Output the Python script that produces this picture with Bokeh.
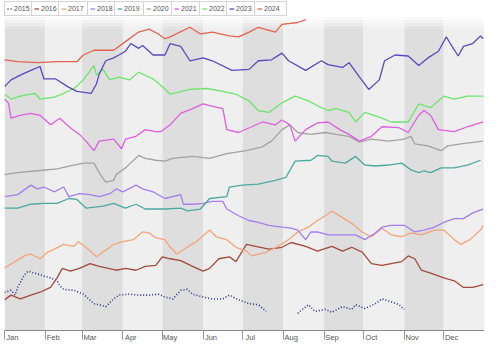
from bokeh.plotting import figure
from bokeh.models import Range1d, FixedTicker, Legend, LegendItem
from bokeh.embed import file_html
from bokeh.resources import INLINE

NaN = float("nan")

month_names = ["Jan", "Feb", "Mar", "Apr", "May", "Jun", "Jul", "Aug", "Sep", "Oct", "Nov", "Dec"]
month_starts = [0, 31, 59, 90, 120, 151, 181, 212, 243, 273, 304, 334]
year_end = 365
years = [2015, 2016, 2017, 2018, 2019, 2020, 2021, 2022, 2023, 2024]

days_2015 = [0, 5, 8, 10, 15, 18, 23, 30, 35, 40, 42, 45, 53, 60, 68, 72, 77, 83, 87, 95, 102, 110, 117, 122, 128, 134, 139, 143, 151, 158, 166, 171, 178, 186, 193, 199, NaN, 223, 231, 236, 244, 249, 257, 264, 267, 274, 282, 287, 294, 300, 304]
vals_2015 = [40, 42, 37, 45, 58, 62, 60, 57, 55, 52, 47, 43, 42, 38, 28, 27, 25, 33, 37, 38, 37, 37, 38, 35, 33, 42, 43, 38, 35, 33, 33, 37, 32, 28, 27, 20, NaN, 18, 27, 20, 22, 19, 25, 22, 27, 23, 28, 33, 30, 27, 22]

days_2016 = [0, 5, 12, 20, 27, 35, 40, 44, 50, 57, 65, 72, 85, 92, 100, 107, 115, 120, 126, 134, 143, 151, 156, 163, 171, 176, 184, 191, 201, 211, 218, 229, 238, 249, 257, 264, 272, 279, 287, 294, 302, 307, 312, 317, 324, 334, 342, 349, 356, 364]
vals_2016 = [32, 37, 33, 37, 40, 45, 55, 65, 62, 65, 70, 67, 63, 65, 63, 67, 68, 77, 75, 73, 67, 62, 65, 75, 77, 72, 90, 88, 85, 87, 92, 88, 83, 88, 83, 87, 82, 70, 68, 70, 72, 78, 75, 63, 60, 55, 52, 45, 45, 48]

days_2017 = [0, 8, 15, 20, 27, 33, 38, 45, 53, 56, 62, 70, 75, 83, 90, 98, 105, 110, 115, 122, 126, 131, 139, 146, 156, 161, 169, 176, 184, 188, 199, 208, 216, 223, 231, 238, 244, 249, 257, 264, 272, 279, 287, 294, 302, 309, 317, 327, 334, 342, 347, 354, 362, 364]
vals_2017 = [65, 72, 78, 80, 75, 82, 85, 90, 88, 93, 87, 77, 82, 90, 93, 95, 103, 102, 97, 95, 87, 80, 87, 93, 105, 98, 95, 87, 83, 78, 82, 88, 95, 103, 108, 115, 120, 125, 118, 112, 103, 98, 107, 100, 98, 102, 100, 105, 105, 95, 90, 95, 105, 110]

days_2018 = [0, 10, 15, 20, 25, 30, 38, 45, 49, 57, 65, 72, 80, 85, 90, 100, 105, 113, 122, 134, 136, 143, 151, 158, 166, 169, 178, 186, 193, 201, 211, 218, 223, 229, 233, 238, 246, 255, 267, 274, 282, 287, 294, 304, 312, 319, 327, 334, 342, 349, 356, 364]
vals_2018 = [140, 142, 147, 152, 148, 150, 145, 150, 140, 143, 142, 140, 143, 148, 145, 152, 148, 145, 138, 142, 132, 132, 133, 135, 135, 127, 120, 115, 113, 110, 108, 107, 105, 95, 103, 103, 100, 100, 100, 95, 102, 108, 110, 110, 103, 105, 108, 113, 117, 117, 123, 127]

days_2019 = [0, 10, 20, 30, 40, 49, 55, 62, 75, 83, 92, 100, 107, 122, 134, 139, 149, 156, 169, 171, 181, 193, 206, 214, 216, 221, 233, 238, 246, 249, 259, 267, 274, 282, 292, 302, 309, 315, 319, 324, 332, 342, 352, 362]
vals_2019 = [128, 128, 132, 133, 133, 138, 137, 128, 130, 133, 128, 132, 127, 127, 128, 125, 127, 138, 140, 150, 152, 153, 157, 160, 165, 177, 178, 183, 182, 177, 175, 182, 173, 172, 173, 175, 168, 165, 167, 165, 170, 170, 173, 178]

days_2020 = [0, 10, 25, 40, 50, 60, 68, 72, 77, 83, 85, 92, 102, 107, 115, 122, 128, 143, 156, 169, 184, 196, 203, 211, 217, 223, 233, 244, 252, 262, 270, 279, 292, 304, 309, 312, 322, 332, 337, 347, 364]
vals_2020 = [163, 165, 167, 169, 172, 175, 175, 165, 155, 157, 163, 170, 183, 180, 178, 177, 180, 182, 180, 185, 188, 192, 198, 210, 215, 207, 205, 207, 205, 203, 197, 200, 198, 200, 203, 195, 193, 188, 193, 195, 198]

days_2021 = [0, 3, 5, 12, 20, 27, 35, 42, 50, 57, 62, 68, 72, 83, 89, 92, 100, 107, 115, 119, 126, 134, 143, 151, 156, 166, 169, 178, 188, 196, 206, 211, 217, 221, 229, 238, 246, 255, 262, 270, 279, 287, 300, 307, 315, 319, 324, 330, 342, 352, 364]
vals_2021 = [242, 238, 222, 225, 227, 225, 215, 222, 212, 205, 198, 188, 198, 200, 190, 200, 203, 210, 208, 208, 215, 227, 232, 237, 235, 232, 210, 207, 213, 218, 215, 220, 215, 198, 210, 217, 218, 210, 205, 198, 203, 213, 212, 207, 225, 230, 225, 210, 208, 213, 218]

days_2022 = [0, 5, 12, 23, 27, 38, 45, 53, 60, 68, 70, 75, 80, 87, 95, 102, 113, 120, 126, 141, 154, 166, 176, 186, 193, 201, 211, 221, 231, 238, 246, 252, 262, 267, 274, 285, 294, 307, 315, 324, 334, 342, 352, 364]
vals_2022 = [247, 242, 245, 248, 242, 244, 248, 253, 262, 277, 267, 273, 262, 265, 262, 270, 263, 255, 247, 252, 253, 250, 247, 240, 230, 228, 238, 245, 240, 235, 230, 232, 228, 218, 228, 223, 218, 218, 237, 233, 245, 242, 245, 245]

days_2023 = [0, 5, 12, 20, 27, 30, 39, 48, 55, 66, 70, 72, 77, 83, 87, 92, 96, 102, 105, 113, 122, 126, 134, 141, 151, 158, 173, 186, 193, 203, 211, 216, 229, 241, 246, 257, 262, 270, 277, 285, 289, 297, 307, 315, 322, 330, 336, 339, 345, 349, 356, 362, 364]
vals_2023 = [255, 262, 267, 272, 276, 263, 263, 255, 250, 248, 258, 268, 282, 285, 288, 292, 300, 295, 298, 288, 288, 300, 297, 282, 285, 282, 272, 273, 282, 283, 290, 282, 272, 282, 278, 275, 280, 265, 252, 262, 282, 288, 287, 277, 285, 292, 307, 300, 287, 297, 300, 308, 305]

days_2024 = [0, 10, 25, 40, 55, 60, 68, 83, 92, 102, 110, 117, 122, 126, 141, 149, 158, 171, 178, 186, 193, 206, 211, 223, 229]
vals_2024 = [283, 281, 280, 281, 281, 288, 293, 293, 302, 312, 315, 310, 305, 307, 317, 310, 312, 308, 307, 312, 317, 312, 320, 322, 325]

series_days = [days_2015, days_2016, days_2017, days_2018, days_2019, days_2020, days_2021, days_2022, days_2023, days_2024]
series_vals = [vals_2015, vals_2016, vals_2017, vals_2018, vals_2019, vals_2020, vals_2021, vals_2022, vals_2023, vals_2024]
colors = ["#2f2f88", "#a24a3e", "#f2a47a", "#a67ded", "#4ea8a2", "#a2a2a2", "#de5fde", "#6ee46e", "#5a48c2", "#e6624e"]

FRAME_H = 330
p = figure(frame_width=480, frame_height=FRAME_H, x_range=Range1d(0, year_end), y_range=Range1d(0, 345),
           output_backend="svg", toolbar_location=None, y_axis_location=None,
           min_border_left=4, min_border_right=0, min_border_top=0, min_border_bottom=12)
p.grid.visible = False
p.outline_line_color = None
p.background_fill_color = "white"
p.border_fill_color = "white"

# alternating month bands
band_right = month_starts[1:] + [year_end]
band_colors = ["#dedede" if i % 2 == 0 else "#efefef" for i in range(12)]
p.quad(left=month_starts, right=band_right, bottom=0, top=327, fill_color=band_colors, line_color=None)
# soft fade at top of bands
for k, a in enumerate([0.2, 0.4, 0.6, 0.8]):
    p.quad(left=0, right=year_end, bottom=315 + 3 * k, top=318 + 3 * k, fill_color="white",
           fill_alpha=a, line_color=None)

renderers = []
for yr, d, v, c in zip(years, series_days, series_vals, colors):
    if yr == 2015:
        r = p.line(d, v, line_color=c, line_width=1.6, line_dash="1 2")
    else:
        r = p.line(d, v, line_color=c, line_width=1.3)
    renderers.append(r)

legend_x = [0, 27, 54, 83, 110, 139, 167, 195, 222, 250]
for yr, r, lx in zip(years, renderers, legend_x):
    leg = Legend(items=[LegendItem(label=str(yr), renderers=[r])],
                 location=(lx, FRAME_H - 16), orientation="horizontal",
                 padding=2, spacing=0, margin=0, glyph_width=5, glyph_height=9,
                 label_height=9, label_standoff=2, label_text_font_size="7px",
                 label_text_color="#555555", label_text_font="Liberation Sans",
                 border_line_color="#aaaaaa", border_line_width=1,
                 background_fill_color="white", background_fill_alpha=1.0)
    p.add_layout(leg, "center")

xa = p.xaxis[0]
label_ticks = [s + 6 for s in month_starts]
xa.ticker = FixedTicker(ticks=label_ticks, minor_ticks=month_starts + [year_end])
xa.major_label_overrides = {t: n for t, n in zip(label_ticks, month_names)}
xa.major_tick_in = 0
xa.major_tick_out = 0
xa.minor_tick_in = 0
xa.minor_tick_out = 9
xa.minor_tick_line_color = "#999999"
xa.axis_line_color = "#888888"
xa.major_label_standoff = -7
xa.major_label_text_font_size = "7.5px"
xa.major_label_text_font = "Liberation Sans"
xa.major_label_text_color = "#555555"

open("out.html", "w").write(file_html(p, INLINE))
